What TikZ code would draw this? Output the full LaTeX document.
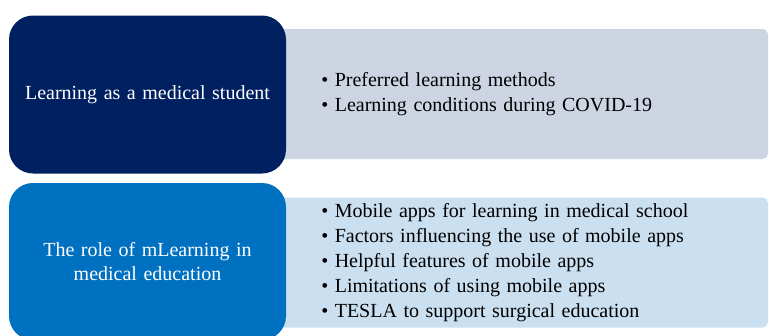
\documentclass[tikz,border=0pt]{standalone}
\usepackage{fontspec}
\setmainfont{Liberation Serif}
\usepackage{tikz}
\usetikzlibrary{positioning}
\definecolor{navy}{HTML}{002060}
\definecolor{mblue}{HTML}{0070C0}
\definecolor{greyfill}{HTML}{CDD4E2}
\definecolor{paleblue}{HTML}{CADFF0}
\newlength{\headw}
\setlength{\headw}{207.75pt}
\newcommand{\wide}{\spaceskip=4.9pt plus 1pt minus 1pt\relax}
\tikzset{head/.style = {shape=rectangle,rounded corners=18pt,minimum width=\headw,minimum height=118.5pt,inner sep=0pt,text=white,align=center,font=\fontsize{15}{17.5}\selectfont\wide}}
\tikzset{panel/.style = {shape=rectangle,rounded corners=4pt,minimum width=369pt,minimum height=97.5pt,inner sep=0pt}}
\tikzset{items/.style = {align=left,inner sep=0pt,font=\fontsize{15}{18.75}\selectfont\wide}}

\begin{document}
\begin{tikzpicture}[x=0.75pt,y=-0.75pt]
        \useasboundingbox (0,0) rectangle (769,336);
        % first row
        \node[panel,fill=greyfill] (p1) at (522,94) {};
        \node[items,anchor=west] (l1) at (321,94) {\textbullet\ Preferred learning methods\\
            \textbullet\ Learning conditions during COVID-19};
        \node[head,fill=navy] (h1) at (147.5,94.5) {Learning as a medical student};
        % second row
        \node[panel,fill=paleblue] (p2) at (522,262.5) {};
        \node[items,anchor=west] (l2) at (321,262.5) {\textbullet\ Mobile apps for learning in medical school\\
            \textbullet\ Factors influencing the use of mobile apps\\
            \textbullet\ Helpful features of mobile apps\\
            \textbullet\ Limitations of using mobile apps\\
            \textbullet\ TESLA to support surgical education};
        \node[head,fill=mblue,minimum height=117.75pt] (h2) at (147.5,261.5) {The role of mLearning in\\ medical education};
    \end{tikzpicture}
\end{document}
